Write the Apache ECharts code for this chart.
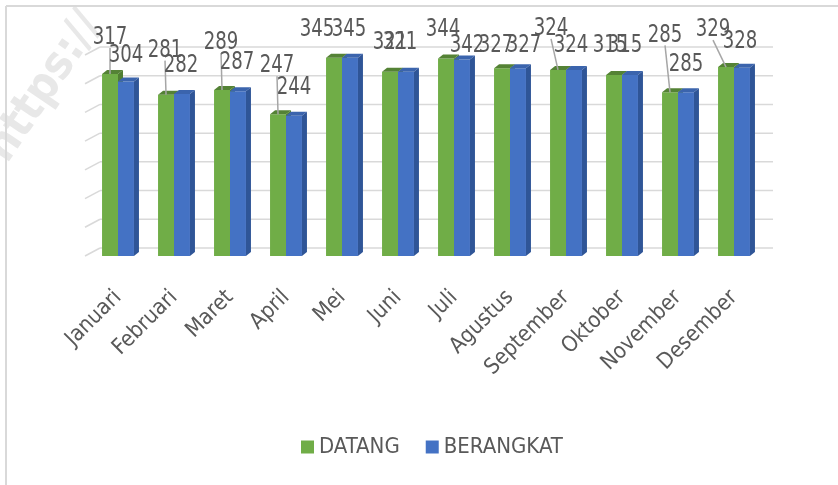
<!DOCTYPE html>
<html>
<head>
<meta charset="utf-8">
<script src="https://cdn.jsdelivr.net/npm/echarts@6/dist/echarts.min.js"></script>
<style>
  html, body { margin: 0; padding: 0; background: #fff; }
  #main { width: 838px; height: 485px; }
</style>
</head>
<body>
<div id="main"></div>
<script>
var months = ['Januari', 'Februari', 'Maret', 'April', 'Mei', 'Juni', 'Juli',
  'Agustus', 'September', 'Oktober', 'November', 'Desember'];
var datang = [317, 281, 289, 247, 345, 321, 344, 327, 324, 315, 285, 329];
var berangkat = [304, 282, 287, 244, 345, 321, 342, 327, 324, 315, 285, 328];
var yTicks = [0, 50, 100, 150, 200, 250, 300, 350];

// label nudges (px from bar top), the way excel shuffled them around
var datangShift = [[0, -36], [-1, -44], [-1, -47], [-1, -48], [-17, -28], [0, -29],
  [-3, -29], [-6, -22], [-7, -41], [-4, -29], [-5, -57], [-13, -37]];
var berangkatShift = [[0, -26], [-1, -28], [-1, -28], [0, -28], [-1, -28], [-6, -29],
  [5, -14], [6, -22], [-3, -24], [-5, -29], [0, -28], [-2, -26]];

var FONT = "'Liberation Sans Narrow', 'DejaVu Sans Condensed', 'Liberation Sans', sans-serif";
var TXT = '#595959';

var chart = echarts.init(document.getElementById('main'));

function barRenderer(side, col, shifts) {
  return function(params, api) {
    var i = api.value(0);
    var v = api.value(1);
    var base = api.coord([i, 0]);
    var top = api.coord([i, v]);
    var w = api.size([1, 0])[0] * 0.285;
    var dx = 5, dy = -4;
    var x0 = side < 0 ? base[0] - w : base[0];
    var yT = top[1], yB = base[1];
    var cx = x0 + w / 2;
    var sh = shifts[i];
    var lx = cx + sh[0], ly = yT + sh[1];
    var kids = [
      { type: 'rect', shape: { x: x0, y: yT, width: w, height: yB - yT }, style: { fill: col.front } },
      { type: 'polygon', shape: { points: [[x0, yT], [x0 + w, yT], [x0 + w + dx, yT + dy], [x0 + dx, yT + dy]] }, style: { fill: col.top } },
      { type: 'polygon', shape: { points: [[x0 + w, yT], [x0 + w + dx, yT + dy], [x0 + w + dx, yB + dy], [x0 + w, yB]] }, style: { fill: col.side } }
    ];
    if (sh[1] <= -35) {
      kids.push({ type: 'line', shape: { x1: lx, y1: ly + 10, x2: cx, y2: yT }, style: { stroke: '#a6a6a6', lineWidth: 1.5 } });
    }
    // squeeze the text a bit, the original font is narrow
    kids.push({
      type: 'text',
      x: lx,
      y: ly,
      scaleX: 0.84,
      style: { x: 0, y: 0, text: String(v), fill: TXT, font: '24px ' + FONT, align: 'center', verticalAlign: 'middle' }
    });
    return { type: 'group', children: kids };
  };
}

function wallRenderer(params, api) {
  var cs = params.coordSys;
  var y = api.coord([0, api.value(0)])[1];
  return {
    type: 'group',
    children: [
      { type: 'line', shape: { x1: cs.x - 5, y1: y, x2: cs.x + 10, y2: y - 8 }, style: { stroke: '#d9d9d9', lineWidth: 1.5 } },
      { type: 'line', shape: { x1: cs.x + 10, y1: y - 8, x2: cs.x + cs.width + 11, y2: y - 8 }, style: { stroke: '#d9d9d9', lineWidth: 1.5 } }
    ]
  };
}

var greenCol = { front: '#70ad47', top: '#548235', side: '#507e32' };
var blueCol = { front: '#4472c4', top: '#3b64ad', side: '#2f5597' };

var option = {
  animation: false,
  backgroundColor: '#fff',
  textStyle: { fontFamily: FONT },
  graphic: [
    {
      type: 'text', left: -22, top: 4, rotation: Math.PI * 0.31, z: -10,
      style: { text: 'https://', font: 'bold 46px ' + FONT, fill: '#e8e8e8' }
    },
    { type: 'line', shape: { x1: 6, y1: 6, x2: 838, y2: 6 }, style: { stroke: '#d9d9d9', lineWidth: 2 } },
    { type: 'line', shape: { x1: 6, y1: 6, x2: 6, y2: 485 }, style: { stroke: '#d9d9d9', lineWidth: 2 } }
  ],
  legend: {
    data: ['DATANG', 'BERANGKAT'],
    left: 296,
    top: 431,
    icon: 'rect',
    itemWidth: 13,
    itemHeight: 13,
    itemGap: 26,
    textStyle: { fontSize: 22, color: TXT, fontFamily: FONT }
  },
  grid: { left: 90, right: 76, top: 55, bottom: 229 },
  xAxis: {
    type: 'category',
    data: months,
    axisLine: { show: false },
    axisTick: { show: false },
    axisLabel: { rotate: 45, fontSize: 22, color: TXT, margin: 38, interval: 0, fontFamily: FONT }
  },
  yAxis: {
    type: 'value',
    min: 0,
    max: 350,
    interval: 50,
    axisLabel: { show: false },
    axisLine: { show: false },
    splitLine: { show: false }
  },
  series: [
    {
      type: 'custom',
      name: 'wall',
      silent: true,
      z: 1,
      renderItem: wallRenderer,
      data: yTicks.map(function(t) { return [t]; }),
      encode: { y: 0 }
    },
    {
      type: 'custom',
      name: 'DATANG',
      z: 2,
      itemStyle: { color: greenCol.front },
      renderItem: barRenderer(-1, greenCol, datangShift),
      data: datang.map(function(v, i) { return [i, v]; }),
      encode: { x: 0, y: 1 }
    },
    {
      type: 'custom',
      name: 'BERANGKAT',
      z: 2,
      itemStyle: { color: blueCol.front },
      renderItem: barRenderer(1, blueCol, berangkatShift),
      data: berangkat.map(function(v, i) { return [i, v]; }),
      encode: { x: 0, y: 1 }
    }
  ]
};

chart.setOption(option);
</script>
</body>
</html>
